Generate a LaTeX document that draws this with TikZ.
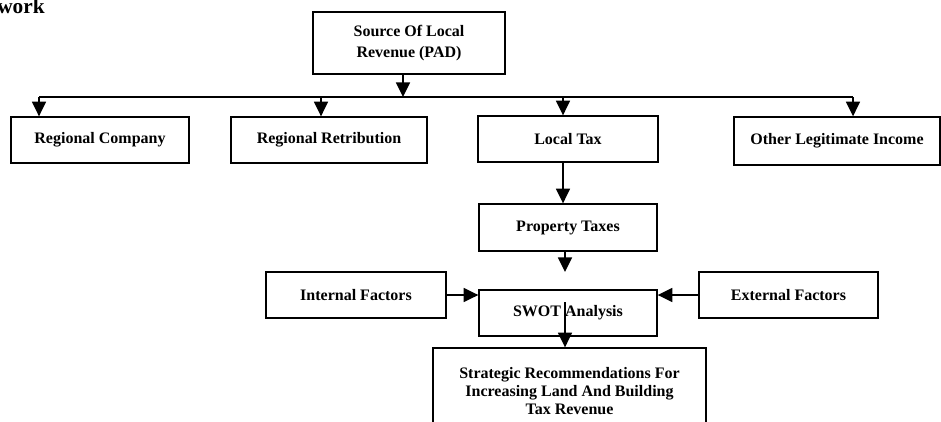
\documentclass[tikz,border=0pt]{standalone}
\usepackage{fontspec}
\setmainfont{Liberation Serif}
\usetikzlibrary{arrows.meta}

\tikzset{
  box/.style={draw, line width=1pt, align=center, inner sep=0pt,
    font=\bfseries\fontsize{12}{13.5}\selectfont},
  arr/.style={line width=1.2pt, -{Triangle[length=11pt,width=10.5pt]}}
}

\begin{document}
\begin{tikzpicture}[x=0.75pt,y=-0.75pt]
  \useasboundingbox (0,0) rectangle (941,421);

  \node[anchor=base east, inner sep=0pt, font=\bfseries\fontsize{16}{18}\selectfont] (title) at (45,13.5) {work};

  \node[box, minimum width=144pt, minimum height=46.5pt] (src) at (409,43) {Source Of Local\\[2pt] Revenue (PAD)};

  \node[box, minimum width=133.5pt, minimum height=34.5pt] (comp) at (100,140) {Regional Company};
  \node[box, minimum width=147pt, minimum height=34.5pt] (retr) at (329,140) {Regional Retribution};
  \node[box, minimum width=135pt, minimum height=34.5pt] (ltax) at (568,139) {Local Tax};
  \node[box, minimum width=154.5pt, minimum height=36pt] (other) at (837,141) {Other Legitimate Income};

  \node[box, minimum width=133.5pt, minimum height=35.25pt] (prop) at (568,227.5) {Property Taxes};
  \node[box, minimum width=133.5pt, minimum height=34.5pt] (swot) at (568,313) {SWOT Analysis};
  \node[box, minimum width=135pt, minimum height=34.5pt] (intf) at (356,295) {Internal Factors};
  \node[box, minimum width=134.25pt, minimum height=34.5pt] (extf) at (788.5,295) {External Factors};
  \node[box, minimum width=204.75pt, minimum height=64.5pt] (strat) at (569.5,391) {Strategic Recommendations For\\ Increasing Land And Building\\ Tax Revenue};

  % branch line
  \coordinate (bus) at (403,97);
  \coordinate (busL) at (39,97);
  \coordinate (busR) at (853,97);
  \coordinate (busT) at (563,97);
  \coordinate (busM) at (321,97);
  \draw[line width=1.2pt] (busL) -- (busR);
  \draw[arr] (src.south -| bus) -- (bus);
  \draw[arr] (busL) -- (comp.north -| busL);
  \draw[arr] (busM) -- (retr.north -| busM);
  \draw[arr] (busT) -- (ltax.north -| busT);
  \draw[arr] (busR) -- (other.north -| busR);

  \draw[arr] (ltax.south -| busT) -- (prop.north -| busT);
  \coordinate (ptip) at (565,272);
  \draw[arr] (prop.south -| ptip) -- (ptip);

  \draw[arr] (intf.east) -- (swot.west |- intf.east);
  \draw[arr] (extf.west) -- (swot.east |- extf.west);
  \coordinate (sin) at (565,302);
  \draw[arr] (sin) -- (strat.north -| sin);
\end{tikzpicture}
\end{document}
